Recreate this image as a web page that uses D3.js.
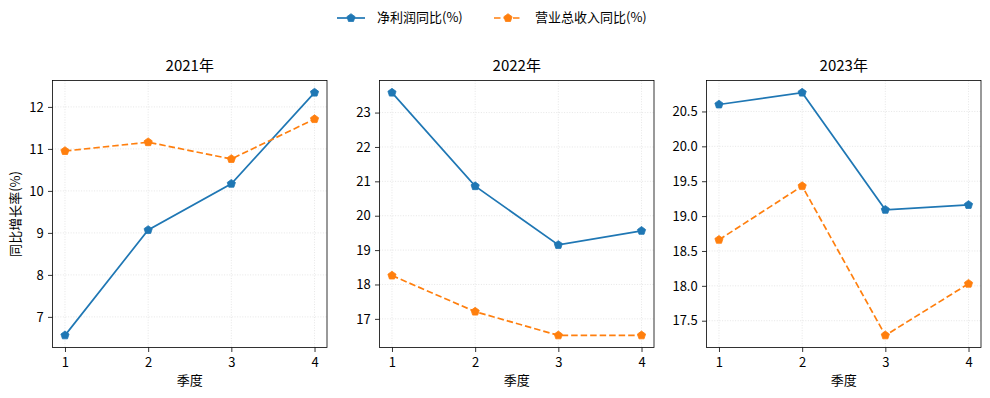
<!DOCTYPE html>
<html><head><meta charset="utf-8">
<script src="https://cdn.jsdelivr.net/npm/d3@7"></script>
<style>
body{margin:0;background:#fff;}
text{font-family:"Noto Sans CJK SC","DejaVu Sans",sans-serif;fill:#000;}
</style></head>
<body><svg id="c" width="990" height="398"></svg>
<script>
const years = ["2021年","2022年","2023年"];
const quarters = [1,2,3,4];
const netProfit2021 = [6.56, 9.07, 10.17, 12.34];
const netProfit2022 = [23.58, 20.86, 19.15, 19.56];
const netProfit2023 = [20.60, 20.77, 19.09, 19.16];
const revenue2021 = [10.95, 11.16, 10.76, 11.71];
const revenue2022 = [18.26, 17.21, 16.52, 16.52];
const revenue2023 = [18.66, 19.43, 17.29, 18.03];
const seriesNames = ["净利润同比(%)","营业总收入同比(%)"];
const yTicks2021 = [7,8,9,10,11,12];
const yTicks2022 = [17,18,19,20,21,22,23];
const yTicks2023 = [17.5,18.0,18.5,19.0,19.5,20.0,20.5];

const colors = ["#1f77b4","#ff7f0e"];
const dashes = [null,"6.5,3"];
const panels = [
  {title:years[0], series:[netProfit2021,revenue2021], ticks:yTicks2021, fmt:d3.format("d"), left:52.5},
  {title:years[1], series:[netProfit2022,revenue2022], ticks:yTicks2022, fmt:d3.format("d"), left:379.5},
  {title:years[2], series:[netProfit2023,revenue2023], ticks:yTicks2023, fmt:d3.format(".1f"), left:706.5}
];
const W = 274.5, plotTop = 80.5, plotBottom = 347.5;
const svg = d3.select("#c");

// pentagon symbol
const pentagon = {draw(ctx, size){
  const r = Math.sqrt(size/1.1888);
  for(let i=0;i<5;i++){
    const a = -Math.PI/2 + i*2*Math.PI/5;
    const px = r*Math.cos(a), py = r*Math.sin(a);
    if(i===0) ctx.moveTo(px,py); else ctx.lineTo(px,py);
  }
  ctx.closePath();
}};
const sym = d3.symbol().type(pentagon).size(22);

panels.forEach((p,pi)=>{
  const all = p.series.flat();
  const lo = d3.min(all), hi = d3.max(all), pad=(hi-lo)*0.05;
  const x = d3.scaleLinear().domain([0.85,4.15]).range([p.left,p.left+W]);
  const y = d3.scaleLinear().domain([lo-pad,hi+pad]).range([plotBottom,plotTop]);
  const g = svg.append("g");
  // grid
  g.selectAll(".gx").data(quarters).enter().append("line")
    .attr("x1",d=>x(d)).attr("x2",d=>x(d)).attr("y1",plotTop).attr("y2",plotBottom)
    .attr("stroke","#b0b0b0").attr("stroke-opacity",0.4).attr("stroke-dasharray","1,1.6").attr("stroke-width",0.8);
  g.selectAll(".gy").data(p.ticks).enter().append("line")
    .attr("y1",d=>y(d)).attr("y2",d=>y(d)).attr("x1",p.left).attr("x2",p.left+W)
    .attr("stroke","#b0b0b0").attr("stroke-opacity",0.4).attr("stroke-dasharray","1,1.6").attr("stroke-width",0.8);
  // axes
  const xa = g.append("g").attr("transform",`translate(0,${plotBottom})`)
    .call(d3.axisBottom(x).tickValues(quarters).tickFormat(d3.format("d")).tickSize(4.5).tickSizeOuter(0));
  const ya = g.append("g").attr("transform",`translate(${p.left},0)`)
    .call(d3.axisLeft(y).tickValues(p.ticks).tickFormat(p.fmt).tickSize(4.5).tickSizeOuter(0));
  [xa,ya].forEach(a=>{
    a.select(".domain").remove();
    a.selectAll("text").attr("font-size",13).attr("font-family",'"Noto Sans CJK SC",sans-serif').attr("fill","#000");
    a.selectAll("line").attr("stroke","#000").attr("stroke-width",0.8);
  });
  xa.selectAll("text").attr("dy","0.95em");
  ya.selectAll("text").attr("dx","-0.1em");
  // lines
  p.series.forEach((s,si)=>{
    const line = d3.line().x((d,i)=>x(quarters[i])).y(d=>y(d));
    g.append("path").datum(s).attr("d",line).attr("fill","none")
      .attr("stroke",colors[si]).attr("stroke-width",1.7)
      .attr("stroke-dasharray",dashes[si]);
    g.selectAll(".m"+si).data(s).enter().append("path")
      .attr("d",sym).attr("transform",(d,i)=>`translate(${x(quarters[i])},${y(d)})`)
      .attr("fill",colors[si]).attr("stroke",colors[si]).attr("stroke-width",0.8);
  });
  // frame
  g.append("rect").attr("x",p.left).attr("y",plotTop).attr("width",W).attr("height",plotBottom-plotTop)
    .attr("fill","none").attr("stroke","#000").attr("stroke-width",0.8);
  // title
  g.append("text").attr("x",p.left+W/2).attr("y",67).attr("text-anchor","middle")
    .attr("dominant-baseline","middle").attr("font-size",15).text(p.title);
  g.append("text").attr("x",p.left+W/2).attr("y",381).attr("text-anchor","middle")
    .attr("dominant-baseline","middle").attr("font-size",13).text("季度");
  if(pi===0){
    g.append("text").attr("transform",`translate(16,${(plotTop+plotBottom)/2}) rotate(-90)`)
      .attr("text-anchor","middle").attr("dominant-baseline","middle").attr("font-size",13).text("同比增长率(%)");
  }
});

// legend
const leg = [{x0:337,tx:377},{x0:494,tx:535}];
seriesNames.forEach((n,i)=>{
  const lg = svg.append("g");
  lg.append("line").attr("x1",leg[i].x0).attr("x2",leg[i].x0+28).attr("y1",18).attr("y2",18)
    .attr("stroke",colors[i]).attr("stroke-width",1.7).attr("stroke-dasharray",dashes[i]);
  lg.append("path").attr("d",sym).attr("transform",`translate(${leg[i].x0+14},18)`)
    .attr("fill",colors[i]).attr("stroke",colors[i]).attr("stroke-width",0.8);
  lg.append("text").attr("x",leg[i].tx).attr("y",18).attr("dominant-baseline","middle")
    .attr("font-size",13).text(n);
});
</script></body></html>
